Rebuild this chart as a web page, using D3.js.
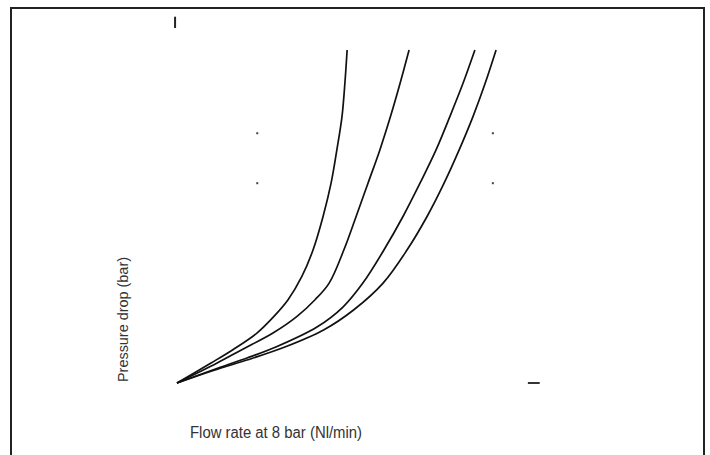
<!DOCTYPE html>
<html>
<head>
<meta charset="utf-8">
<script src="https://cdn.jsdelivr.net/npm/d3@7"></script>
<style>
  body { margin: 0; background: #fff; }
  svg { display: block; }
  .curve { fill: none; stroke: #111; stroke-width: 1.7; }
  .label { fill: #333; font-family: "Liberation Sans Narrow", "Liberation Sans", Arial, sans-serif; }
</style>
</head>
<body>
<div id="chart"></div>
<script>
    const width  = 710;
    const height = 455;

    // Flow rate (relative units) and pressure drop (bar)
    const flow1 = [0, 10.6, 17.4, 24.9, 30.2, 34.6, 38.9, 42.4, 45.5, 48.0, 49.8, 51.4, 52.3, 53.0];
    const drop1 = [0, 0.6, 1.0, 1.5, 2.0, 2.5, 3.2, 4.0, 5.0, 6.0, 7.0, 8.0, 9.0, 10.0];

    const flow2 = [0, 12.5, 20.2, 29.9, 37.4, 43.0, 47.4, 52.0, 55.8, 59.5, 63.2, 66.5, 69.5, 72.3];
    const drop2 = [0, 0.6, 1.0, 1.5, 2.0, 2.5, 3.0, 4.0, 5.0, 6.0, 7.0, 8.0, 9.0, 10.0];

    const flow3 = [0, 13.7, 21.8, 30.8, 43.6, 51.7, 57.9, 64.5, 70.4, 75.7, 80.7, 85.0, 89.1, 92.8];
    const drop3 = [0, 0.48, 0.75, 1.08, 1.68, 2.28, 3.0, 4.0, 5.0, 6.0, 7.0, 8.0, 9.0, 10.0];

    const flow4 = [0, 13.7, 21.8, 33.6, 45.8, 55.1, 64.2, 71.7, 77.9, 83.2, 87.9, 92.2, 96.0, 99.4];
    const drop4 = [0, 0.45, 0.69, 1.08, 1.6, 2.2, 3.0, 4.0, 5.0, 6.0, 7.0, 8.0, 9.0, 10.0];

    // leftover tick / grid marks of the scanned chart
    const gridFlow = [25, 98.4];
    const gridDrop = [7.5, 6.0];

    const xLabel = 'Flow rate at 8 bar (Nl/min)';
    const yLabel = 'Pressure drop (bar)';

    const x = d3.scaleLinear().domain([0, 100]).range([177, 498]);
    const y = d3.scaleLinear().domain([0, 10]).range([383, 50]);

    const svg = d3.select('#chart')
      .append('svg')
      .attr('width', width)
      .attr('height', height);

    // frame (open at the bottom)
    svg.append('path')
      .attr('d', `M11,${height} V8 H704 V${height}`)
      .attr('fill', 'none')
      .attr('stroke', '#222')
      .attr('stroke-width', 2);

    const line = d3.line()
      .x(d => x(d[0]))
      .y(d => y(d[1]))
      .curve(d3.curveCatmullRom.alpha(0.5));

    const series = [
      d3.zip(flow1, drop1),
      d3.zip(flow2, drop2),
      d3.zip(flow3, drop3),
      d3.zip(flow4, drop4)
    ];

    svg.selectAll('.curve')
      .data(series)
      .join('path')
        .attr('class', 'curve')
        .attr('d', line);

    // grid dots
    const dots = [];
    gridFlow.forEach(f => gridDrop.forEach(p => dots.push([f, p])));
    svg.selectAll('.dot')
      .data(dots)
      .join('rect')
        .attr('class', 'dot')
        .attr('x', d => x(d[0]) - 1)
        .attr('y', d => y(d[1]) - 1)
        .attr('width', 2)
        .attr('height', 2)
        .attr('fill', '#444');

    // axis end marks
    svg.append('line')
      .attr('x1', x(-0.6)).attr('x2', x(-0.6))
      .attr('y1', y(11.0)).attr('y2', y(10.66))
      .attr('stroke', '#222').attr('stroke-width', 2);

    svg.append('line')
      .attr('x1', x(109.3)).attr('x2', x(113))
      .attr('y1', y(0)).attr('y2', y(0))
      .attr('stroke', '#333').attr('stroke-width', 2);

    // axis titles
    svg.append('text')
      .attr('class', 'label')
      .attr('x', 190)
      .attr('y', 438)
      .attr('font-size', 16)
      .attr('textLength', 172)
      .attr('lengthAdjust', 'spacingAndGlyphs')
      .text(xLabel);

    svg.append('text')
      .attr('class', 'label')
      .attr('transform', 'translate(128,382) rotate(-90)')
      .attr('font-size', 14)
      .attr('textLength', 125)
      .attr('lengthAdjust', 'spacingAndGlyphs')
      .style('font-family', '"Liberation Sans", Arial, sans-serif')
      .text(yLabel);
</script>
</body>
</html>
